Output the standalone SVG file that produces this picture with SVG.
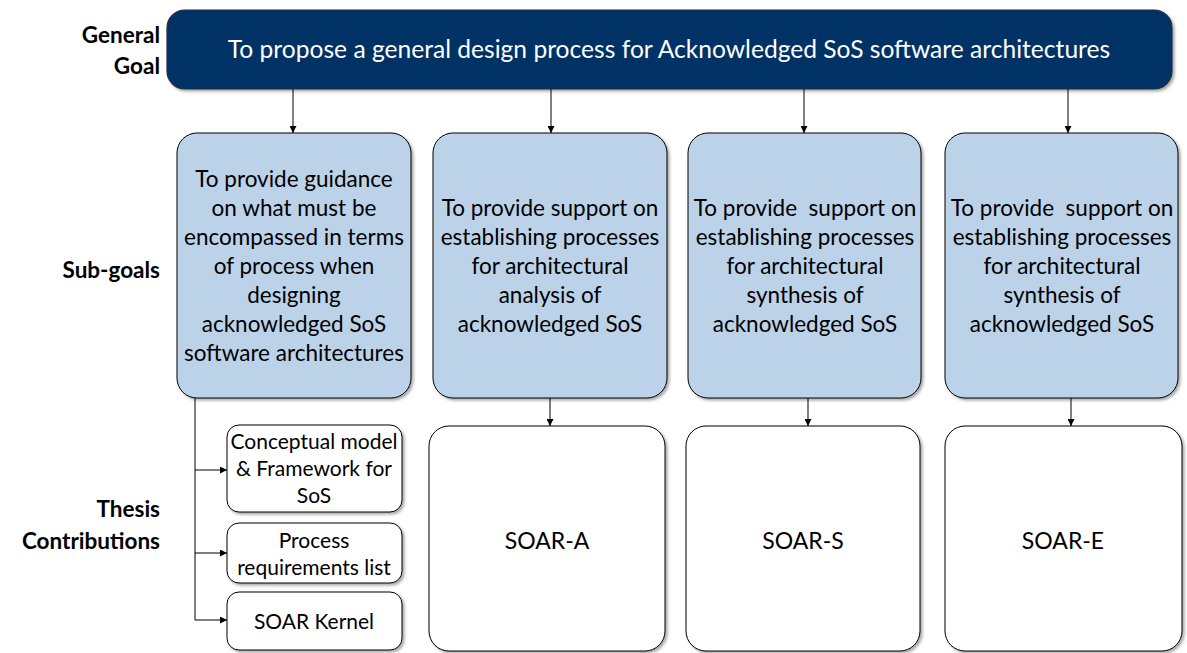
<svg xmlns="http://www.w3.org/2000/svg" width="1187" height="653" viewBox="0 0 1187 653">
<style>
text{font-family:Lato,"Open Sans","Liberation Sans",sans-serif;fill:#000;}
.lbl{font-weight:bold;font-size:22.5px;text-anchor:end;}
.goal{fill:#003366;stroke:#1f2f44;stroke-width:1.2;}
.sub{fill:#bcd2e8;stroke:#000;stroke-width:1;}
.con{fill:#fff;stroke:#000;stroke-width:1;}
.t{font-size:22.5px;text-anchor:middle;}
.ts{font-size:21px;text-anchor:middle;}
.tc{font-size:23px;text-anchor:middle;}
.w{fill:#fff;font-size:24.6px;text-anchor:middle;}
.ln{stroke:#000;stroke-width:1;fill:none;}
</style>
<defs>
<marker id="ah" viewBox="0 0 10 10" refX="10" refY="5" markerWidth="7" markerHeight="7" orient="auto" markerUnits="userSpaceOnUse"><path d="M0,0 L10,5 L0,10 z" fill="#000"/></marker>
<filter id="sh" x="-5%" y="-5%" width="115%" height="115%"><feDropShadow dx="2" dy="2" stdDeviation="1.5" flood-color="#000" flood-opacity="0.35"/></filter>
</defs>
<rect width="1187" height="653" fill="#fff"/>
<g id="labels">
<text class="lbl" x="160" y="43">General</text>
<text class="lbl" x="160" y="74">Goal</text>
<text class="lbl" x="160" y="278">Sub-goals</text>
<text class="lbl" x="160" y="517">Thesis</text>
<text class="lbl" x="160" y="549">Contributions</text>
</g>
<g id="general-goal">
<rect class="goal" x="167" y="10" width="1005" height="79" rx="18" filter="url(#sh)"/>
<text class="w" x="669" y="58">To propose a general design process for Acknowledged SoS software architectures</text>
</g>
<g id="subgoal-1">
<rect class="sub" x="177" y="133" width="234" height="265" rx="20" filter="url(#sh)"/>
<text class="t" x="294" y="187">To provide guidance</text>
<text class="t" x="294" y="216">on what must be</text>
<text class="t" x="294" y="245">encompassed in terms</text>
<text class="t" x="294" y="274">of process when</text>
<text class="t" x="294" y="303">designing</text>
<text class="t" x="294" y="332">acknowledged SoS</text>
<text class="t" x="294" y="361">software architectures</text>
</g>
<g id="subgoal-2">
<rect class="sub" x="433" y="133" width="234" height="265" rx="20" filter="url(#sh)"/>
<text class="t" x="550" y="216">To provide support on</text>
<text class="t" x="550" y="245">establishing processes</text>
<text class="t" x="550" y="274">for architectural</text>
<text class="t" x="550" y="303">analysis of</text>
<text class="t" x="550" y="332">acknowledged SoS</text>
</g>
<g id="subgoal-3">
<rect class="sub" x="688" y="133" width="233" height="265" rx="20" filter="url(#sh)"/>
<text class="t" x="805" y="216" xml:space="preserve">To provide  support on</text>
<text class="t" x="805" y="245">establishing processes</text>
<text class="t" x="805" y="274">for architectural</text>
<text class="t" x="805" y="303">synthesis of</text>
<text class="t" x="805" y="332">acknowledged SoS</text>
</g>
<g id="subgoal-4">
<rect class="sub" x="945" y="133" width="233" height="265" rx="20" filter="url(#sh)"/>
<text class="t" x="1062" y="216" xml:space="preserve">To provide  support on</text>
<text class="t" x="1062" y="245">establishing processes</text>
<text class="t" x="1062" y="274">for architectural</text>
<text class="t" x="1062" y="303">synthesis of</text>
<text class="t" x="1062" y="332">acknowledged SoS</text>
</g>
<g id="contrib-conceptual">
<rect class="con" x="227" y="425" width="175" height="87" rx="12" filter="url(#sh)"/>
<text class="ts" x="314" y="449">Conceptual model</text>
<text class="ts" x="314" y="476">&amp; Framework for</text>
<text class="ts" x="314" y="503">SoS</text>
</g>
<g id="contrib-process">
<rect class="con" x="227" y="523" width="175" height="60" rx="12" filter="url(#sh)"/>
<text class="ts" x="314" y="548">Process</text>
<text class="ts" x="314" y="575">requirements list</text>
</g>
<g id="contrib-kernel">
<rect class="con" x="227" y="592" width="175" height="58" rx="12" filter="url(#sh)"/>
<text class="ts" x="314" y="629">SOAR Kernel</text>
</g>
<g id="contrib-soar-a">
<rect class="con" x="429" y="426" width="236" height="225" rx="20" filter="url(#sh)"/>
<text class="tc" x="547" y="549">SOAR-A</text>
</g>
<g id="contrib-soar-s">
<rect class="con" x="686" y="426" width="234" height="225" rx="20" filter="url(#sh)"/>
<text class="tc" x="803" y="549">SOAR-S</text>
</g>
<g id="contrib-soar-e">
<rect class="con" x="945" y="426" width="237" height="225" rx="20" filter="url(#sh)"/>
<text class="tc" x="1063" y="549">SOAR-E</text>
</g>
<g id="connectors">
<line class="ln" x1="293" y1="89" x2="293" y2="133" marker-end="url(#ah)"/>
<line class="ln" x1="551" y1="89" x2="551" y2="133" marker-end="url(#ah)"/>
<line class="ln" x1="804" y1="89" x2="804" y2="133" marker-end="url(#ah)"/>
<line class="ln" x1="1068" y1="89" x2="1068" y2="133" marker-end="url(#ah)"/>
<line class="ln" x1="550" y1="398" x2="550" y2="426" marker-end="url(#ah)"/>
<line class="ln" x1="808" y1="398" x2="808" y2="426" marker-end="url(#ah)"/>
<line class="ln" x1="1071" y1="398" x2="1071" y2="426" marker-end="url(#ah)"/>
<polyline class="ln" points="195,398 195,620 227,620" marker-end="url(#ah)"/>
<line class="ln" x1="195" y1="470" x2="227" y2="470" marker-end="url(#ah)"/>
<line class="ln" x1="195" y1="553" x2="227" y2="553" marker-end="url(#ah)"/>
</g>
</svg>
